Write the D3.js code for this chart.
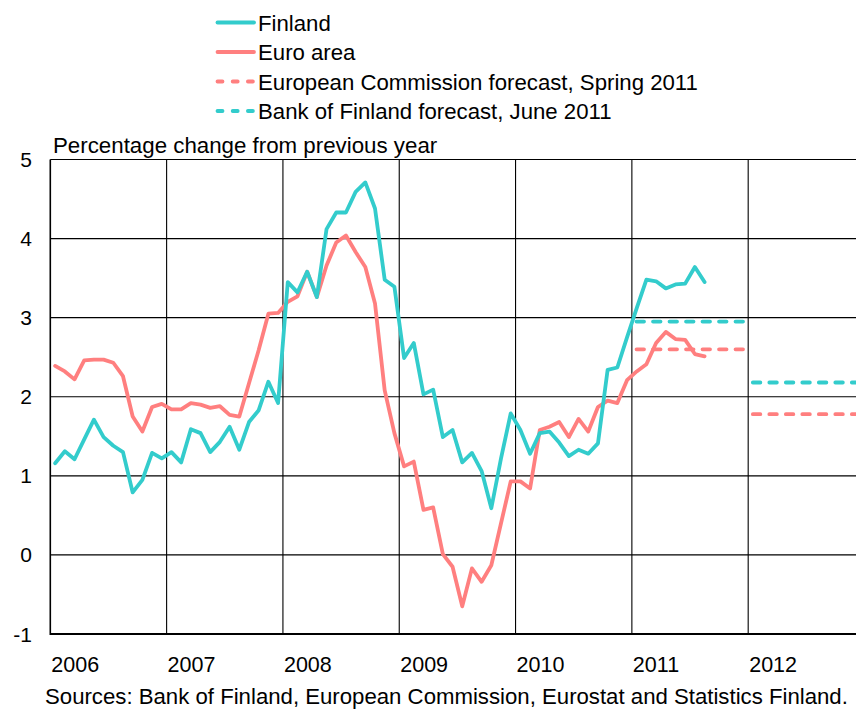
<!DOCTYPE html>
<html>
<head>
<meta charset="utf-8">
<script src="https://cdn.jsdelivr.net/npm/d3@7"></script>
<style>
  html, body { margin: 0; padding: 0; background: #fff; }
  svg { display: block; font-family: "Liberation Sans", Arial, sans-serif; }
</style>
</head>
<body>
<svg id="chart" width="856" height="713"></svg>
<script>
// Monthly HICP inflation, % change from previous year, Jan 2006 onwards
const startYear = 2006;
const finland = [
  1.16, 1.31, 1.21, 1.46, 1.71, 1.49, 1.38, 1.30, 0.79, 0.95, 1.29, 1.22,
  1.30, 1.17, 1.59, 1.54, 1.30, 1.43, 1.62, 1.33, 1.68, 1.83, 2.19, 1.92,
  3.45, 3.32, 3.58, 3.26, 4.12, 4.33, 4.33, 4.59, 4.71, 4.38, 3.48, 3.39,
  2.49, 2.68, 2.03, 2.09, 1.49, 1.58, 1.17, 1.29, 1.06, 0.59, 1.22, 1.79,
  1.58, 1.28, 1.54, 1.56, 1.42, 1.25, 1.33, 1.28, 1.41, 2.34, 2.37, 2.75,
  3.12, 3.48, 3.46, 3.37, 3.42, 3.43, 3.64, 3.45
];
const euroArea = [
  2.39, 2.32, 2.22, 2.46, 2.47, 2.47, 2.43, 2.26, 1.75, 1.56, 1.87, 1.91,
  1.84, 1.84, 1.92, 1.90, 1.86, 1.88, 1.77, 1.75, 2.17, 2.59, 3.05, 3.06,
  3.20, 3.27, 3.58, 3.26, 3.66, 3.95, 4.04, 3.83, 3.64, 3.18, 2.08, 1.54,
  1.12, 1.18, 0.57, 0.60, 0.01, -0.15, -0.65, -0.17, -0.34, -0.13, 0.40, 0.93,
  0.93, 0.84, 1.58, 1.62, 1.68, 1.49, 1.72, 1.56, 1.87, 1.95, 1.92, 2.21,
  2.32, 2.41, 2.68, 2.82, 2.73, 2.72, 2.54, 2.51
];
// Annual forecasts
const forecastYears = [2011, 2012];
const ecForecast = [2.60, 1.78];
const bofForecast = [2.95, 2.18];

const yearLabels = ["2006", "2007", "2008", "2009", "2010", "2011", "2012"];
const yTicks = [-1, 0, 1, 2, 3, 4, 5];

const legendItems = [
  { label: "Finland", color: "#33CCCC", dashed: false },
  { label: "Euro area", color: "#FF7F7F", dashed: false },
  { label: "European Commission forecast, Spring 2011", color: "#FF7F7F", dashed: true },
  { label: "Bank of Finland forecast, June 2011", color: "#33CCCC", dashed: true }
];

const colors = { finland: "#33CCCC", euro: "#FF7F7F" };

const svg = d3.select("#chart");
const x = d3.scaleLinear().domain([2006, 2013]).range([50.3, 864.5]);
const y = d3.scaleLinear().domain([-1, 5]).range([634, 159.5]);
const plotRight = 856;

// Grid
const grid = svg.append("g");
grid.selectAll("line.h").data(yTicks.filter(v => v > -1 && v < 5)).join("line")
  .attr("x1", x(2006)).attr("x2", plotRight)
  .attr("y1", d => y(d)).attr("y2", d => y(d))
  .attr("stroke", "#000").attr("stroke-width", 1.1);
grid.selectAll("line.v").data(yearLabels.slice(1).map(Number)).join("line")
  .attr("x1", d => x(d)).attr("x2", d => x(d))
  .attr("y1", y(5)).attr("y2", y(-1))
  .attr("stroke", "#000").attr("stroke-width", 1.1);

// Frame
svg.append("line").attr("x1", x(2006)).attr("x2", plotRight).attr("y1", y(5)).attr("y2", y(5))
  .attr("stroke", "#000").attr("stroke-width", 1.2);
svg.append("line").attr("x1", x(2006)).attr("x2", x(2006)).attr("y1", y(5)).attr("y2", y(-1) + 1)
  .attr("stroke", "#000").attr("stroke-width", 1.6);
svg.append("line").attr("x1", x(2006)).attr("x2", plotRight).attr("y1", y(-1)).attr("y2", y(-1))
  .attr("stroke", "#000").attr("stroke-width", 2);

// Series
const monthX = i => x(startYear + (i + 0.5) / 12);
const line = d3.line().x((d, i) => monthX(i)).y(d => y(d));

svg.append("path").datum(euroArea).attr("d", line)
  .attr("fill", "none").attr("stroke", colors.euro).attr("stroke-width", 3.8)
  .attr("stroke-linejoin", "round").attr("stroke-linecap", "round");
svg.append("path").datum(finland).attr("d", line)
  .attr("fill", "none").attr("stroke", colors.finland).attr("stroke-width", 3.8)
  .attr("stroke-linejoin", "round").attr("stroke-linecap", "round");

// Forecast segments spanning each forecast year
function drawForecast(values, color) {
  svg.append("g").selectAll("line").data(values.map((v, i) => ({ year: forecastYears[i], v })))
    .join("line")
    .attr("x1", d => x(d.year + 0.04)).attr("x2", d => x(d.year + 0.97))
    .attr("y1", d => y(d.v)).attr("y2", d => y(d.v))
    .attr("stroke", color).attr("stroke-width", 3.8)
    .attr("stroke-linecap", "round").attr("stroke-dasharray", "7.5,9");
}
drawForecast(ecForecast, colors.euro);
drawForecast(bofForecast, colors.finland);

// Y axis labels
svg.append("g").selectAll("text").data(yTicks).join("text")
  .attr("x", 32).attr("y", d => y(d)).attr("dy", "0.36em")
  .attr("text-anchor", "end").attr("font-size", 21).attr("fill", "#000")
  .text(d => d);

// Year labels
svg.append("g").selectAll("text").data(yearLabels).join("text")
  .attr("x", d => x(+d) + 1).attr("y", 671.5)
  .attr("font-size", 21.5).attr("fill", "#000")
  .text(d => d);

// Axis title
svg.append("text").attr("x", 53).attr("y", 153)
  .attr("font-size", 22.3).attr("fill", "#000")
  .text("Percentage change from previous year");

// Source
svg.append("text").attr("x", 45).attr("y", 704)
  .attr("font-size", 22.2).attr("fill", "#000")
  .text("Sources: Bank of Finland, European Commission, Eurostat and Statistics Finland.");

// Legend
const legend = svg.append("g");
const rows = legend.selectAll("g").data(legendItems).join("g")
  .attr("transform", (d, i) => `translate(0, ${22.5 + i * 29.5})`);
rows.append("line").attr("x1", 217.5).attr("x2", 254)
  .attr("stroke", d => d.color).attr("stroke-width", 3.8)
  .attr("stroke-linecap", "round")
  .attr("stroke-dasharray", d => d.dashed ? "5,10.2" : null);
rows.append("text").attr("x", 258).attr("y", 8.3)
  .attr("font-size", 22.2).attr("fill", "#000")
  .text(d => d.label);
</script>
</body>
</html>
